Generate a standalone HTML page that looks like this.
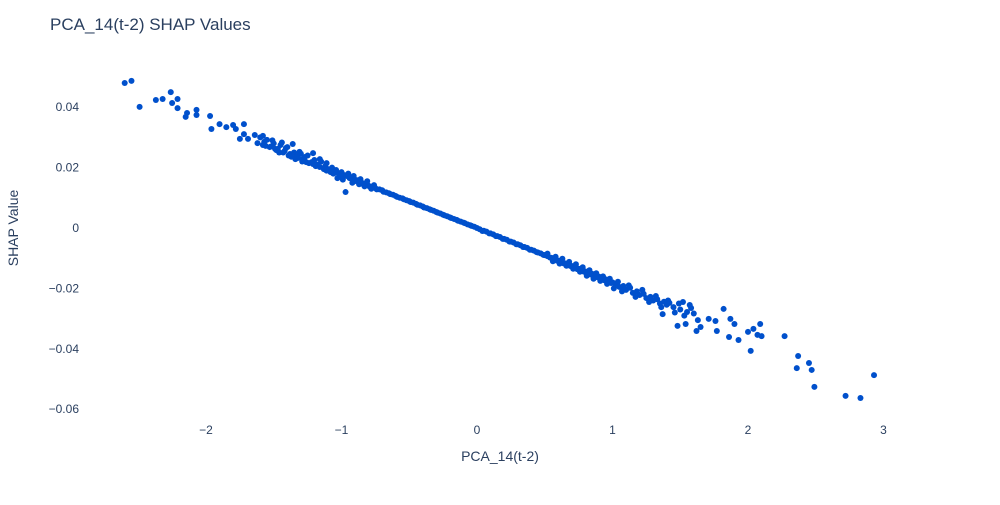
<!DOCTYPE html>
<html><head><meta charset="utf-8"><style>
body{margin:0;background:#fff;font-family:"Liberation Sans",sans-serif;}
svg text{font-family:"Liberation Sans",sans-serif;fill:#2a3f5f;}
</style></head><body>
<svg id="chart" width="1000" height="500" xmlns="http://www.w3.org/2000/svg">
<rect width="1000" height="500" fill="#fff"/>
<text x="50" y="30" font-size="17">PCA_14(t-2) SHAP Values</text>
<g id="xticks"></g>
<g id="yticks"></g>
<g id="points"></g>
<text x="500" y="461" font-size="14" text-anchor="middle">PCA_14(t-2)</text>
<text x="18" y="228" font-size="14" text-anchor="middle" transform="rotate(-90 18 228)">SHAP Value</text>
</svg>
<script>
const xTickVals=[-2,-1,0,1,2,3];
const xTickLabels=["\u22122","\u22121","0","1","2","3"];
const yTickVals=[0.04,0.02,0,-0.02,-0.04,-0.06];
const yTickLabels=["0.04","0.02","0","\u22120.02","\u22120.04","\u22120.06"];
const xs=[-2.60,-2.55,-2.49,-2.37,-2.32,-2.26,-2.25,-2.21,-2.21,-2.15,-2.14,-2.07,-2.07,-1.97,-1.96,-1.90,-1.85,-1.80,-1.78,-1.72,-1.75,-1.72,-1.69,-1.64,-1.62,
-1.60,-1.57,-1.55,-1.52,-1.50,-1.47,-1.45,-1.42,-1.40,-1.38,-1.35,-1.33,-1.30,-1.28,-1.25,-1.22,-1.20,-1.18,-1.15,-1.12,-1.10,-1.07,-1.05,-1.02,-1.00,-0.98,-0.97,-0.96,-0.93,-0.90,-0.88,-0.85,-0.82,-0.80,-0.77,-0.75,-0.72,-0.70,-0.67,-0.65,-0.62,-0.60,-0.57,-0.55,-0.52,-0.50,-0.47,-0.45,-0.42,-0.40,-0.37,-0.35,-0.32,-0.30,-0.27,-0.25,-0.22,-0.20,-0.17,-0.15,-0.12,-0.10,-0.07,-0.05,-0.02,0,
-1.58,-1.53,-1.48,-1.43,-1.37,-1.32,-1.26,-1.21,-1.16,-1.11,-1.06,-1.01,-0.94,-0.89,-0.84,-0.79,-0.74,-0.69,-0.64,-0.59,-0.54,-0.49,-0.44,-0.39,-0.34,-0.29,-0.24,-0.19,-0.14,-0.09,-0.04,
0.02,0.05,0.07,0.10,0.12,0.15,0.17,0.20,0.22,0.25,0.27,0.30,0.32,0.35,0.37,0.40,0.42,0.45,0.47,0.50,0.52,0.55,0.57,0.60,0.62,0.65,0.67,0.70,0.72,0.75,0.77,0.80,0.82,0.85,0.87,0.90,0.92,0.95,0.97,1.00,
0.04,0.09,0.14,0.19,0.24,0.29,0.34,0.39,0.44,0.49,0.54,0.59,0.64,0.69,0.74,0.79,0.84,0.89,0.94,0.99,
1.02,1.05,1.08,1.10,1.13,1.15,1.18,1.20,1.23,1.25,1.28,1.30,1.33,1.35,1.38,1.40,1.45,1.50,1.55,1.60,
1.37,1.42,1.48,1.52,1.54,1.57,1.62,1.63,1.65,1.71,1.76,1.77,1.82,1.86,1.87,1.90,1.93,2.00,2.02,2.04,2.07,2.09,2.10,2.27,2.36,2.37,2.45,2.47,2.49,2.72,2.83,2.93,
-1.58,-1.56,-1.51,-1.49,-1.46,-1.44,-1.41,-1.39,-1.36,-1.34,-1.31,-1.29,-1.27,-1.24,-1.21,-1.19,-1.16,-1.13,-1.11,-1.08,-1.04,-1.03,-0.99,-0.95,-0.92,-0.91,-0.87,-0.86,-0.83,-0.81,-0.78,-0.76,
0.52,0.56,0.58,0.61,0.63,0.66,0.68,0.71,0.73,0.76,0.78,0.81,0.83,0.86,0.88,0.91,0.93,0.96,0.98,1.01,1.04,1.07,1.12,1.17,1.22,1.27,1.32,1.36,1.41,1.46,1.49,1.53,1.58];
const ys=[0.0480,0.0487,0.0401,0.0424,0.0427,0.0450,0.0414,0.0427,0.0397,0.0368,0.0381,0.0391,0.0374,0.0371,0.0328,0.0344,0.0334,0.0341,0.0328,0.0344,0.0295,0.0311,0.0295,0.0308,0.0281,
0.0300,0.0285,0.0292,0.0270,0.0280,0.0262,0.0275,0.0255,0.0268,0.0245,0.0250,0.0238,0.0246,0.0230,0.0240,0.0218,0.0225,0.0210,0.0220,0.0205,0.0195,0.0200,0.0188,0.0180,0.0185,0.0175,0.0119,0.0172,0.0168,0.0160,0.0158,0.0150,0.0148,0.0140,0.0138,0.0132,0.0128,0.0125,0.0118,0.0115,0.0110,0.0106,0.0100,0.0098,0.0092,0.0089,0.0084,0.0080,0.0075,0.0071,0.0066,0.0062,0.0057,0.0053,0.0048,0.0044,0.0039,0.0035,0.0030,0.0027,0.0021,0.0018,0.0012,0.0009,0.0004,0,
0.0275,0.0268,0.0258,0.0250,0.0236,0.0232,0.0218,0.0212,0.0202,0.0190,0.0180,0.0172,0.0165,0.0155,0.0145,0.0136,0.0128,0.0120,0.0112,0.0103,0.0095,0.0086,0.0077,0.0068,0.0060,0.0051,0.0042,0.0033,0.0024,0.0016,0.0007,
-0.0004,-0.0009,-0.0012,-0.0018,-0.0021,-0.0027,-0.0030,-0.0036,-0.0039,-0.0045,-0.0048,-0.0054,-0.0057,-0.0063,-0.0066,-0.0072,-0.0075,-0.0081,-0.0084,-0.0090,-0.0093,-0.0099,-0.0103,-0.0108,-0.0112,-0.0117,-0.0121,-0.0126,-0.0130,-0.0135,-0.0140,-0.0144,-0.0148,-0.0152,-0.0157,-0.0161,-0.0166,-0.0170,-0.0174,-0.0180,
-0.0010,-0.0018,-0.0027,-0.0036,-0.0045,-0.0054,-0.0063,-0.0072,-0.0080,-0.0089,-0.0098,-0.0108,-0.0117,-0.0126,-0.0136,-0.0145,-0.0154,-0.0163,-0.0173,-0.0182,
-0.0186,-0.0195,-0.0192,-0.0205,-0.0198,-0.0215,-0.0210,-0.0222,-0.0218,-0.0232,-0.0228,-0.0240,-0.0236,-0.0250,-0.0244,-0.0254,-0.0262,-0.0270,-0.0278,-0.0283,
-0.0285,-0.0248,-0.0324,-0.0245,-0.0318,-0.0255,-0.0341,-0.0305,-0.0328,-0.0301,-0.0308,-0.0341,-0.0268,-0.0361,-0.0301,-0.0318,-0.0371,-0.0344,-0.0407,-0.0334,-0.0354,-0.0318,-0.0358,-0.0358,-0.0464,-0.0424,-0.0447,-0.0470,-0.0526,-0.0556,-0.0563,-0.0487,
0.0305,0.0272,0.0290,0.0262,0.0250,0.0283,0.0265,0.0240,0.0278,0.0228,0.0252,0.0220,0.0235,0.0215,0.0248,0.0205,0.0228,0.0195,0.0215,0.0185,0.0192,0.0165,0.0160,0.0180,0.0150,0.0172,0.0145,0.0162,0.0138,0.0155,0.0130,0.0142,
-0.0085,-0.0110,-0.0095,-0.0118,-0.0102,-0.0125,-0.0112,-0.0135,-0.0120,-0.0145,-0.0130,-0.0158,-0.0140,-0.0168,-0.0150,-0.0175,-0.0160,-0.0185,-0.0168,-0.0200,-0.0178,-0.0210,-0.0190,-0.0228,-0.0205,-0.0245,-0.0225,-0.0262,-0.0240,-0.0280,-0.0250,-0.0290,-0.0265];
const NS="http://www.w3.org/2000/svg";
function xScale(v){return 477+135.5*v;}
function yScale(v){return 228-3020*v;}
const xt=document.getElementById('xticks');
xTickVals.forEach((v,i)=>{const t=document.createElementNS(NS,'text');
t.setAttribute('x',xScale(v));t.setAttribute('y',434);t.setAttribute('font-size','12');t.setAttribute('text-anchor','middle');


t.textContent=xTickLabels[i];xt.appendChild(t);});
const yt=document.getElementById('yticks');
yTickVals.forEach((v,i)=>{const t=document.createElementNS(NS,'text');
t.setAttribute('x',79);t.setAttribute('y',yScale(v)+4);t.setAttribute('font-size','12');t.setAttribute('text-anchor','end');


t.textContent=yTickLabels[i];yt.appendChild(t);});
const pg=document.getElementById('points');
xs.forEach((v,i)=>{const c=document.createElementNS(NS,'circle');
c.setAttribute('cx',xScale(v));c.setAttribute('cy',yScale(ys[i]));c.setAttribute('r',3);c.setAttribute('fill','#0050cc');


pg.appendChild(c);});
</script>
</body></html>
